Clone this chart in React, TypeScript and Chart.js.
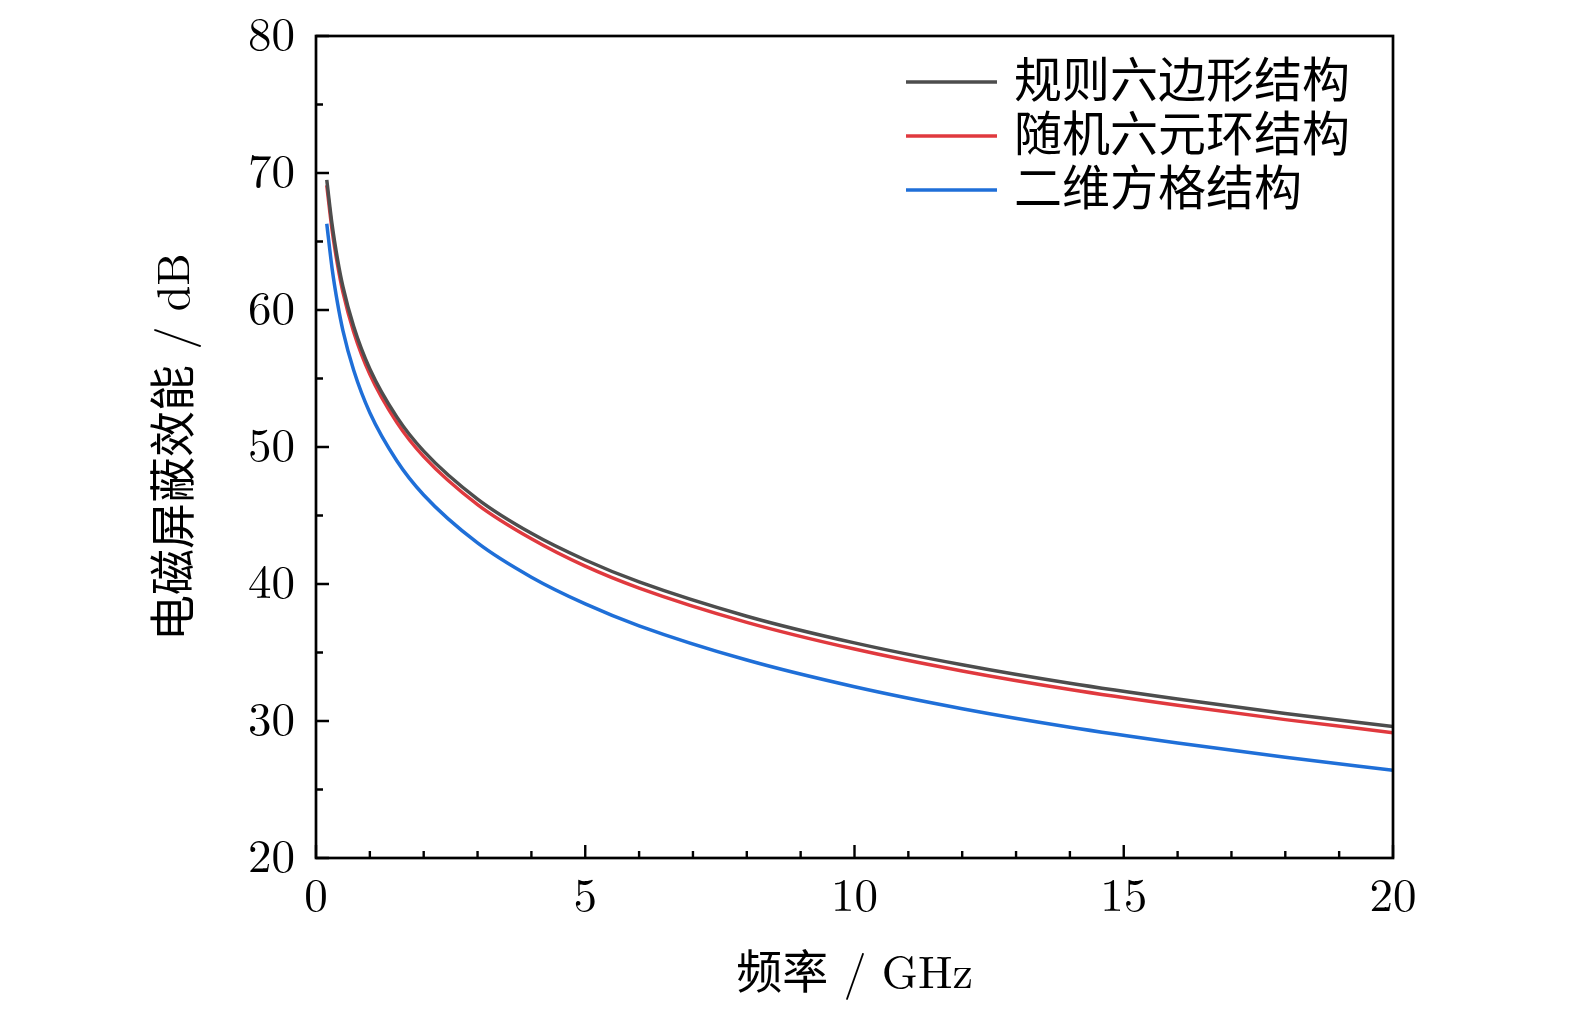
import React, { useEffect, useRef } from 'react';
import Chart from 'chart.js/auto';

// frequency points (GHz)
const freqs = [0.2, 0.3, 0.4, 0.5, 0.7, 1, 1.5, 2, 3, 4, 5, 6, 8, 10, 12, 14, 16, 18, 20];

const regularHex = [69.5, 66.2, 63.7, 61.7, 58.8, 55.7, 52.2, 49.7, 46.2, 43.7, 41.75, 40.15, 37.65, 35.7, 34.1, 32.75, 31.6, 30.55, 29.6];
const randomHex = [69.1, 65.8, 63.3, 61.3, 58.4, 55.3, 51.8, 49.3, 45.8, 43.3, 41.3, 39.7, 37.2, 35.25, 33.65, 32.3, 31.15, 30.1, 29.15];
const squareGrid = [66.3, 63.0, 60.5, 58.5, 55.6, 52.5, 49.0, 46.5, 43.0, 40.5, 38.55, 36.95, 34.45, 32.5, 30.9, 29.55, 28.4, 27.35, 26.4];

const seriesNames = ['规则六边形结构', '随机六元环结构', '二维方格结构'];
const seriesColors = ['#4d4d4d', '#e0393e', '#1f6fd8'];

const xMajor = [0, 5, 10, 15, 20];
const xMinor = [1, 2, 3, 4, 6, 7, 8, 9, 11, 12, 13, 14, 16, 17, 18, 19];
const yMajor = [20, 30, 40, 50, 60, 70, 80];
const yMinor = [25, 35, 45, 55, 65, 75];

const latin = "'Latin Modern Roman', 'Liberation Serif', 'DejaVu Serif', serif";
const cjk = "'Latin Modern Roman', 'Noto Sans CJK SC', serif";

// box around the plot plus inward major/minor ticks
const frameAndTicks = {
  id: 'frameAndTicks',
  afterDatasetsDraw(chart: any) {
    const { ctx, chartArea: a, scales } = chart;
    const xs = scales.x;
    const ys = scales.y;
    ctx.save();
    ctx.strokeStyle = '#000';
    ctx.lineWidth = 2.7;
    ctx.strokeRect(a.left, a.top, a.right - a.left, a.bottom - a.top);
    ctx.lineWidth = 2.4;
    ctx.beginPath();
    xMajor.forEach((v) => {
      const px = xs.getPixelForValue(v);
      ctx.moveTo(px, a.bottom);
      ctx.lineTo(px, a.bottom - 13);
    });
    xMinor.forEach((v) => {
      const px = xs.getPixelForValue(v);
      ctx.moveTo(px, a.bottom);
      ctx.lineTo(px, a.bottom - 7);
    });
    yMajor.forEach((v) => {
      const py = ys.getPixelForValue(v);
      ctx.moveTo(a.left, py);
      ctx.lineTo(a.left + 13, py);
    });
    yMinor.forEach((v) => {
      const py = ys.getPixelForValue(v);
      ctx.moveTo(a.left, py);
      ctx.lineTo(a.left + 7, py);
    });
    ctx.stroke();
    ctx.restore();
  },
};

const lineLegend = {
  id: 'lineLegend',
  afterDraw(chart: any) {
    const { ctx } = chart;
    ctx.save();
    ctx.font = `48px ${cjk}`;
    ctx.textBaseline = 'middle';
    ctx.textAlign = 'left';
    chart.data.datasets.forEach((ds: any, i: number) => {
      const y = 82 + i * 54;
      ctx.strokeStyle = ds.borderColor;
      ctx.lineWidth = 3.5;
      ctx.beginPath();
      ctx.moveTo(906, y);
      ctx.lineTo(997, y);
      ctx.stroke();
      ctx.fillStyle = '#000';
      ctx.fillText(ds.label, 1014, y);
    });
    ctx.restore();
  },
};

const App: React.FC = () => {
  const chartRef = useRef<HTMLCanvasElement>(null);

  useEffect(() => {
    document.body.style.margin = '0';
    const ctx = chartRef.current?.getContext('2d');
    if (!ctx) return;

    const values = [regularHex, randomHex, squareGrid];
    const myChart = new Chart(ctx, {
      type: 'line',
      data: {
        datasets: values.map((vals, i) => ({
          label: seriesNames[i],
          data: freqs.map((f, j) => ({ x: f, y: vals[j] })),
          borderColor: seriesColors[i],
          backgroundColor: seriesColors[i],
          borderWidth: 3.5,
          pointRadius: 0,
          cubicInterpolationMode: 'monotone' as const,
          fill: false,
        })),
      },
      options: {
        responsive: false,
        animation: false,
        layout: { padding: { top: 36, right: 182, left: 0, bottom: 0 } },
        plugins: {
          legend: { display: false },
          tooltip: { enabled: false },
        },
        scales: {
          x: {
            type: 'linear',
            min: 0,
            max: 20,
            grid: { display: false, drawTicks: false },
            border: { display: false },
            ticks: {
              stepSize: 5,
              padding: 10,
              color: '#000',
              font: { family: latin, size: 47 },
            },
            title: {
              display: true,
              text: '频率 / GHz',
              color: '#000',
              font: { family: cjk, size: 46 },
              padding: { top: 0, bottom: 12 },
            },
            afterFit: (scale: any) => {
              scale.height = 156;
            },
          },
          y: {
            min: 20,
            max: 80,
            grid: { display: false, drawTicks: false },
            border: { display: false },
            ticks: {
              stepSize: 10,
              padding: 21,
              color: '#000',
              font: { family: latin, size: 47 },
            },
            title: {
              display: true,
              text: '电磁屏蔽效能 / dB',
              color: '#000',
              font: { family: cjk, size: 46 },
              padding: { top: 147, bottom: 0 },
            },
            afterFit: (scale: any) => {
              scale.width = 316;
              scale.paddingTop = 0;
              scale.paddingBottom = 0;
            },
          },
        },
      },
      plugins: [frameAndTicks, lineLegend],
    });

    return () => {
      myChart.destroy();
    };
  }, []);

  return (
    <div style={{ width: 1575, height: 1014, background: '#fff' }}>
      <canvas ref={chartRef} width={1575} height={1014}></canvas>
    </div>
  );
};

export default App;
